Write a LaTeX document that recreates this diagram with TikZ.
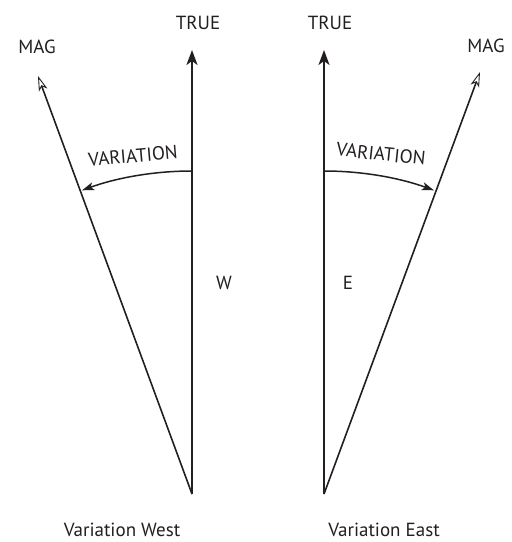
\documentclass[tikz,border=0pt]{standalone}
\usepackage{fontspec}
\setmainfont{PT Sans}
\usetikzlibrary{arrows.meta}
\definecolor{ink}{RGB}{35,31,32}
\begin{document}
\begin{tikzpicture}[x=1pt,y=-1pt,
  lbl/.style={inner sep=0pt,font=\fontsize{19}{19}\selectfont,text=ink},
  trueline/.style={draw=ink,line width=2pt,-{Stealth[length=15pt,width=11pt,inset=4pt]}},
  magline/.style={draw=ink,line width=1.6pt,-{Stealth[open,length=15pt,width=9pt,inset=4pt,line width=0.9pt]}},
  varc/.style={draw=ink,line width=1.5pt,-{Stealth[length=12pt,width=8pt,inset=3pt]}}]
\useasboundingbox (0,0) rectangle (512,542);
% left
\coordinate (OL) at (192,494);
\coordinate (TL) at (192,50);
\coordinate (ML) at (38,76);
\draw[trueline] (OL) -- (TL);
\draw[magline] (OL) -- (ML);
\coordinate (AL1) at (192,171);
\draw[varc] (AL1) arc[start angle=-90,delta angle=-19.9,radius=323];
% right
\coordinate (OR) at (324,494);
\coordinate (TR) at (324,50);
\coordinate (MR) at (480,72);
\draw[trueline] (OR) -- (TR);
\draw[magline] (OR) -- (MR);
\coordinate (AR1) at (324,171);
\draw[varc] (AR1) arc[start angle=-90,delta angle=19.9,radius=323];
% labels
\node[lbl,anchor=base] (magl) at (37,53) {MAG};
\node[lbl,anchor=base] (truel) at (198,29) {TRUE};
\node[lbl,anchor=base] (truer) at (330,29) {TRUE};
\node[lbl,anchor=base] (magr) at (486,52) {MAG};
\node[lbl,rotate=5] (varl) at (133,156) {VARIATION};
\node[lbl,rotate=-6] (varr) at (381,154) {VARIATION};
\node[lbl] (w) at (224,283) {W};
\node[lbl] (e) at (348,283) {E};
\node[lbl,anchor=base] (vw) at (122,536) {Variation West};
\node[lbl,anchor=base] (ve) at (384,536) {Variation East};
\end{tikzpicture}
\end{document}
